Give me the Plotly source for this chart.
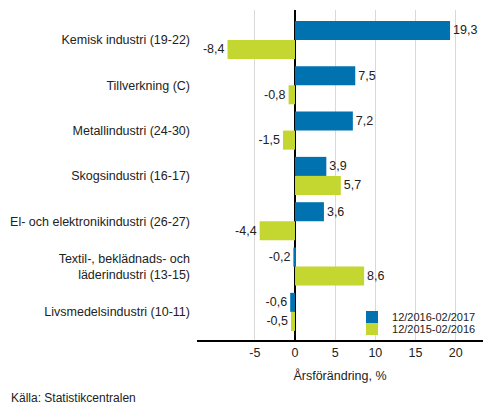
import plotly.graph_objects as go

categories = [
    "Kemisk industri (19-22)",
    "Tillverkning (C)",
    "Metallindustri (24-30)",
    "Skogsindustri (16-17)",
    "El- och elektronikindustri (26-27)",
    "Textil-, beklädnads- och<br>läderindustri (13-15)",
    "Livsmedelsindustri (10-11)",
]
serie_2017 = [19.3, 7.5, 7.2, 3.9, 3.6, -0.2, -0.6]
serie_2016 = [-8.4, -0.8, -1.5, 5.7, -4.4, 8.6, -0.5]
namn_2017 = "12/2016-02/2017"
namn_2016 = "12/2015-02/2016"
tick_vals = [-5, 0, 5, 10, 15, 20]
tick_text = ["-5", "0", "5", "10", "15", "20"]

BLUE = "rgb(0,114,176)"
GREEN = "rgb(196,214,48)"
FONT = "Liberation Sans"


def etikett(v):
    return f"{v:.1f}".replace(".", ",")


fig = go.Figure()
serier = [
    (namn_2017, serie_2017, BLUE, "legend"),
    (namn_2016, serie_2016, GREEN, "legend2"),
]
for namn, vals, col, leg in serier:
    fig.add_trace(go.Bar(
        y=categories,
        x=vals,
        name=namn,
        orientation="h",
        marker=dict(color=col, line=dict(width=0)),
        text=[etikett(v) for v in vals],
        textposition="outside",
        textfont=dict(size=12.5, color="#222"),
        cliponaxis=False,
        showlegend=True,
        legend=leg,
    ))

# one legend per series so that the rows sit as tight as in the original
leg_stil = dict(
    x=0.542, xanchor="left",
    yanchor="middle",
    font=dict(size=11),
    bgcolor="rgba(0,0,0,0)",
    visible=True,
)

# the page has an 8px body margin, so the figure is 8px smaller each way
fig.update_layout(
    width=485,
    height=408,
    margin=dict(l=189, r=10, t=2, b=76),
    showlegend=True,
    barmode="group",
    bargap=0.16,
    bargroupgap=0,
    plot_bgcolor="white",
    paper_bgcolor="white",
    font=dict(family=FONT, size=12, color="#222"),
    legend=dict(leg_stil, y=0.070),
    legend2=dict(leg_stil, y=0.033),
    annotations=[dict(
        text="Källa: Statistikcentralen",
        xref="paper", yref="paper",
        x=-0.657, y=-0.176,
        xanchor="left", yanchor="middle",
        showarrow=False,
        font=dict(size=12),
    )],
)

fig.update_xaxes(
    range=[-12.2, 23.4],
    tickvals=tick_vals,
    ticktext=tick_text,
    showgrid=True,
    gridcolor="#d9d9d9",
    zeroline=True,
    zerolinecolor="black",
    zerolinewidth=1.5,
    showline=True,
    linecolor="black",
    linewidth=1.5,
    ticks="",
    tickfont=dict(size=12.5),
    automargin=False,
    title=dict(text="Årsförändring, %", font=dict(size=12.5), standoff=12),
)
fig.update_yaxes(
    type="category",
    range=[6.62, -0.66],
    showgrid=False,
    ticks="",
    ticklabelstandoff=6,
    tickfont=dict(size=12.5),
    automargin=False,
)

fig.write_html("out.html")
